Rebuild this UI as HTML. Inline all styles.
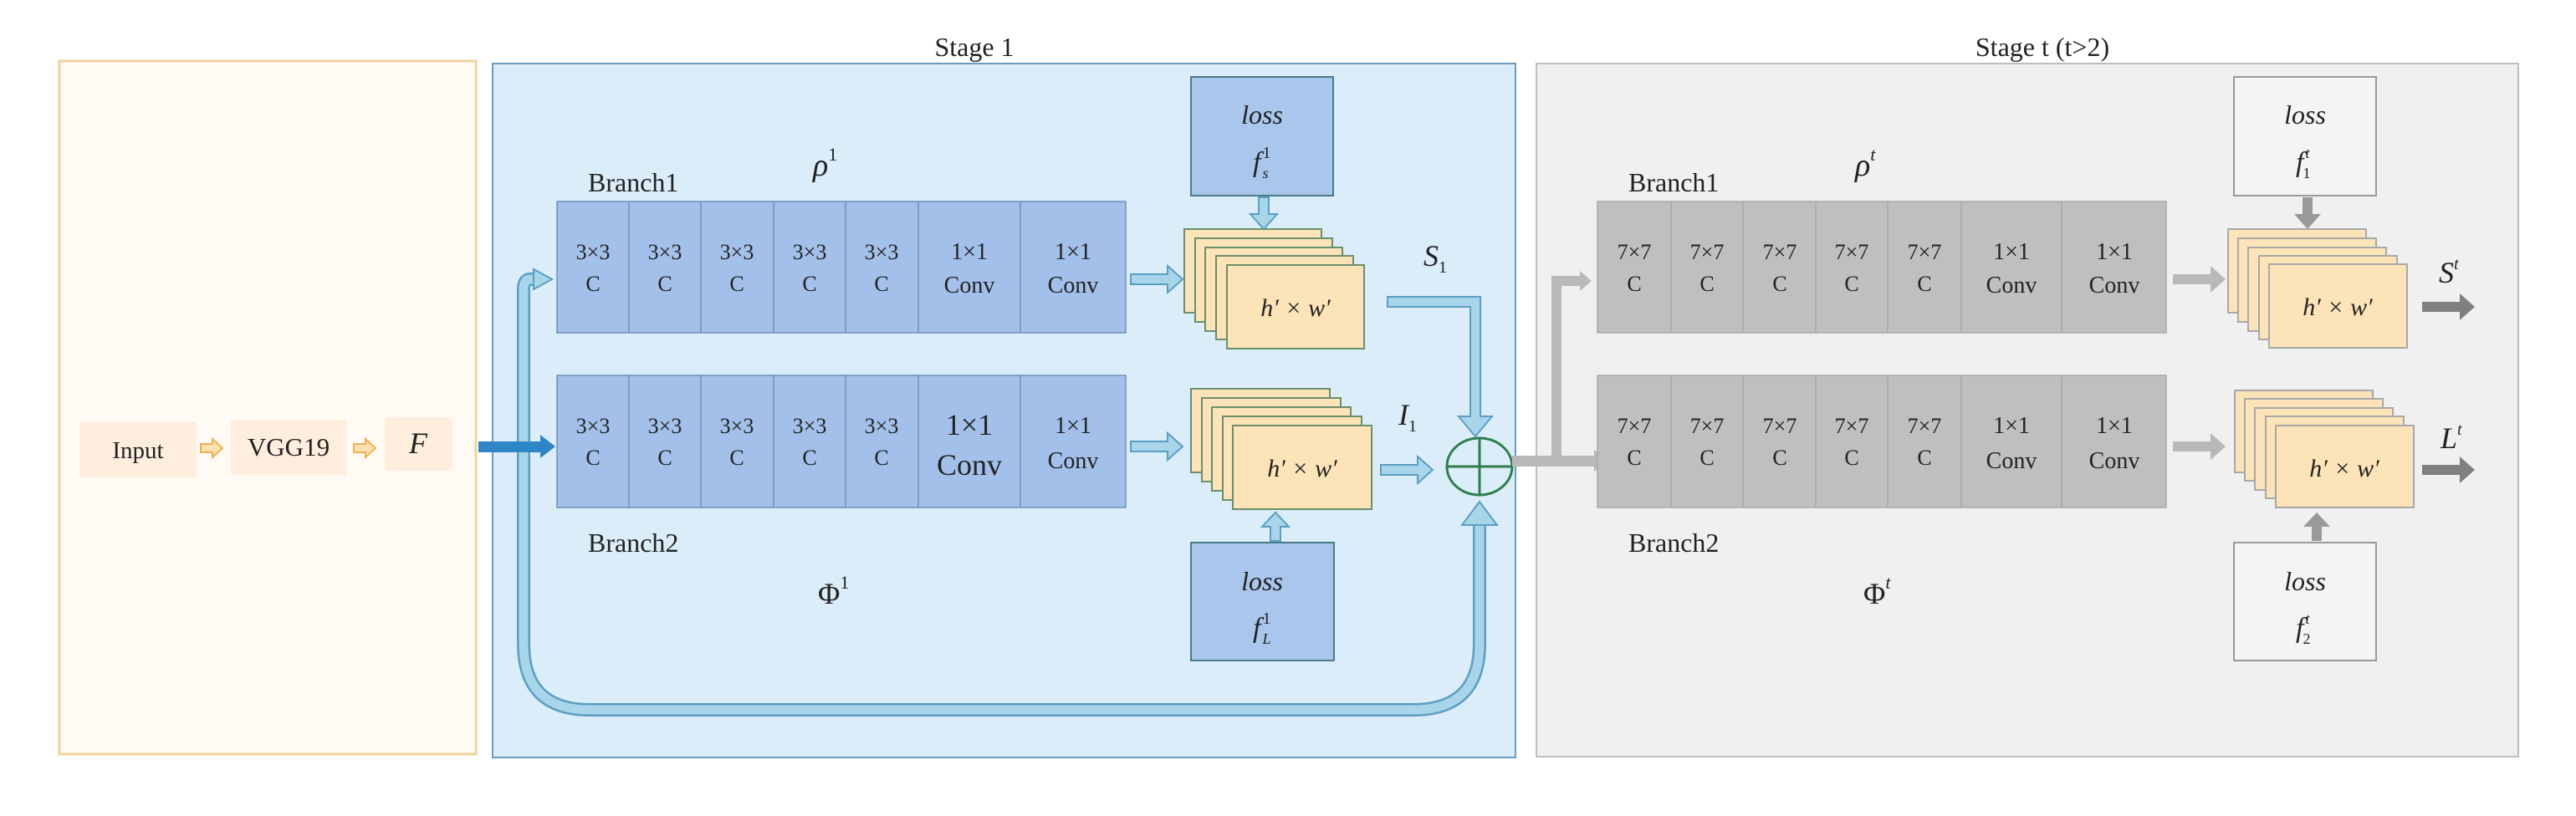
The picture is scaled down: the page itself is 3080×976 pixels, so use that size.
<!DOCTYPE html>
<html><head><meta charset="utf-8"><style>html,body{margin:0;padding:0;background:#fff}svg{display:block}</style></head>
<body>
<svg width="3080" height="976" viewBox="0 0 3080 976" xmlns="http://www.w3.org/2000/svg" font-family="Liberation Serif, serif">
<rect width="3080" height="976" fill="#fff"/>
<!-- panels -->
<rect x="71" y="73" width="498" height="829" fill="#fffaf4" stroke="#f2d29c" stroke-width="3"/>
<rect x="589" y="76" width="1223" height="830" fill="#dbedf8" stroke="#6a9cc0" stroke-width="2"/>
<rect x="1837" y="76" width="1174" height="829" fill="#f0f0f0" stroke="#bdbdbd" stroke-width="2"/>
<text x="1165" y="67" font-size="32" text-anchor="middle" fill="#222">Stage 1</text>
<text x="2442" y="67" font-size="32" text-anchor="middle" fill="#222">Stage t (t&gt;2)</text>

<!-- input chain -->
<rect x="96" y="505" width="139" height="66" fill="#fdeedd"/>
<text x="165" y="548" font-size="29" text-anchor="middle" fill="#222">Input</text>
<rect x="276" y="502" width="138" height="66" fill="#fdeedd"/>
<text x="345" y="545" font-size="31" text-anchor="middle" fill="#222">VGG19</text>
<rect x="460" y="499" width="80" height="64" fill="#fdeedd"/>
<text x="500" y="542" font-size="36" font-style="italic" text-anchor="middle" fill="#222">F</text>
<polygon points="240,531 254,531 254,525 266,536 254,547 254,541 240,541" fill="#fde2b0" stroke="#f0b050" stroke-width="2"/>
<polygon points="423,531 437,531 437,525 449,536 437,547 437,541 423,541" fill="#fde2b0" stroke="#f0b050" stroke-width="2"/>

<!-- skip connection -->
<path d="M640,334 H634 Q626,334 626,346 V770 Q626,849 705,849 H1690 Q1769,849 1769,770 V625" fill="none" stroke="#5a9fc3" stroke-width="16"/>
<path d="M640,334 H634 Q626,334 626,346 V770 Q626,849 705,849 H1690 Q1769,849 1769,770 V622" fill="none" stroke="#a9d5ea" stroke-width="11"/>
<polygon points="638,322 660,334 638,346" fill="#a9d5ea" stroke="#5a9fc3" stroke-width="2"/>
<polygon points="1748,628 1790,628 1769,600" fill="#a9d5ea" stroke="#5a9fc3" stroke-width="2"/>

<!-- F thick arrow -->
<rect x="572" y="528" width="76" height="13" fill="#2f86c6"/>
<polygon points="646,520 664,534 646,548" fill="#2f86c6"/>

<!-- blue blocks -->
<g stroke="#6f8fb8" stroke-width="1.5" fill="#a3c0eb">
<rect x="666" y="241" width="680" height="157"/>
<line x1="752" y1="241" x2="752" y2="398"/><line x1="838" y1="241" x2="838" y2="398"/><line x1="925" y1="241" x2="925" y2="398"/><line x1="1011" y1="241" x2="1011" y2="398"/><line x1="1098" y1="241" x2="1098" y2="398"/><line x1="1220" y1="241" x2="1220" y2="398"/>
<rect x="666" y="449" width="680" height="158"/>
<line x1="752" y1="449" x2="752" y2="607"/><line x1="838" y1="449" x2="838" y2="607"/><line x1="925" y1="449" x2="925" y2="607"/><line x1="1011" y1="449" x2="1011" y2="607"/><line x1="1098" y1="449" x2="1098" y2="607"/><line x1="1220" y1="449" x2="1220" y2="607"/>
</g>
<g font-size="26" text-anchor="middle" fill="#222">
<text x="709" y="310">3×3</text><text x="709" y="348">C</text>
<text x="795" y="310">3×3</text><text x="795" y="348">C</text>
<text x="881" y="310">3×3</text><text x="881" y="348">C</text>
<text x="968" y="310">3×3</text><text x="968" y="348">C</text>
<text x="1054" y="310">3×3</text><text x="1054" y="348">C</text>
<text x="1159" y="310" font-size="28">1×1</text><text x="1159" y="350" font-size="28">Conv</text>
<text x="1283" y="310" font-size="28">1×1</text><text x="1283" y="350" font-size="28">Conv</text>
<text x="709" y="518">3×3</text><text x="709" y="556">C</text>
<text x="795" y="518">3×3</text><text x="795" y="556">C</text>
<text x="881" y="518">3×3</text><text x="881" y="556">C</text>
<text x="968" y="518">3×3</text><text x="968" y="556">C</text>
<text x="1054" y="518">3×3</text><text x="1054" y="556">C</text>
<text x="1159" y="520" font-size="36">1×1</text><text x="1159" y="568" font-size="36">Conv</text>
<text x="1283" y="518" font-size="28">1×1</text><text x="1283" y="560" font-size="28">Conv</text>
</g>
<text x="703" y="229" font-size="32" fill="#222">Branch1</text>
<text x="703" y="660" font-size="32" fill="#222">Branch2</text>
<text x="972" y="210" font-size="38" font-style="italic" fill="#222">ρ<tspan font-size="22" font-style="normal" dy="-18">1</tspan></text>
<text x="978" y="722" font-size="36" fill="#222">Φ<tspan font-size="22" dy="-18">1</tspan></text>

<!-- losses stage1 -->
<rect x="1424" y="92" width="170" height="142" fill="#a9c6ec" stroke="#4a7a8a" stroke-width="2"/>
<text x="1509" y="148" font-size="32" font-style="italic" text-anchor="middle" fill="#222">loss</text>
<text x="1498" y="205" font-size="34" font-style="italic" fill="#222">f<tspan font-size="20" font-style="normal" dx="2" dy="-16">1</tspan><tspan font-size="18" dx="-10" dy="24">s</tspan></text>
<rect x="1424" y="649" width="171" height="141" fill="#a9c6ec" stroke="#4a7a8a" stroke-width="2"/>
<text x="1509" y="706" font-size="32" font-style="italic" text-anchor="middle" fill="#222">loss</text>
<text x="1498" y="762" font-size="34" font-style="italic" fill="#222">f<tspan font-size="20" font-style="normal" dx="2" dy="-16">1</tspan><tspan font-size="18" dx="-10" dy="24">L</tspan></text>

<!-- cards stage1 -->
<g fill="#fde3b8" stroke="#6b8e6b" stroke-width="2">
<rect x="1416" y="274" width="164" height="100"/><rect x="1429" y="285" width="164" height="100"/><rect x="1441" y="296" width="164" height="100"/><rect x="1454" y="306" width="164" height="100"/><rect x="1467" y="317" width="164" height="100"/>
<rect x="1424" y="465" width="166" height="100"/><rect x="1437" y="476" width="166" height="100"/><rect x="1449" y="487" width="166" height="100"/><rect x="1462" y="498" width="166" height="100"/><rect x="1474" y="509" width="166" height="100"/>
</g>
<text x="1549" y="378" font-size="30" font-style="italic" text-anchor="middle" fill="#222">h′ × w′</text>
<text x="1557" y="570" font-size="30" font-style="italic" text-anchor="middle" fill="#222">h′ × w′</text>

<!-- blue small arrows -->
<g fill="#a9d5ea" stroke="#5a9fc3" stroke-width="2">
<polygon points="1352,328 1396,328 1396,318 1414,334 1396,350 1396,340 1352,340"/>
<polygon points="1352,528 1396,528 1396,518 1414,534 1396,550 1396,540 1352,540"/>
<polygon points="1651,556 1695,556 1695,546 1713,562 1695,578 1695,568 1651,568"/>
<polygon points="1505,236 1517,236 1517,256 1527,256 1511,274 1495,256 1505,256"/>
<polygon points="1519,647 1531,647 1531,630 1541,630 1525,613 1509,630 1519,630"/>
<polygon points="1659,355 1770,355 1770,498 1784,498 1764,522 1744,498 1758,498 1758,367 1659,367"/>
</g>
<text x="1702" y="318" font-size="36" font-style="italic" fill="#222">S<tspan font-size="20" font-style="normal" dy="8">1</tspan></text>
<text x="1672" y="508" font-size="36" font-style="italic" fill="#222">I<tspan font-size="20" font-style="normal" dy="8">1</tspan></text>
<!-- circle plus -->
<ellipse cx="1769" cy="558" rx="39" ry="34" fill="none" stroke="#2e7d4f" stroke-width="3"/>
<line x1="1730" y1="558" x2="1808" y2="558" stroke="#2e7d4f" stroke-width="3"/>
<line x1="1769" y1="524" x2="1769" y2="592" stroke="#2e7d4f" stroke-width="3"/>

<!-- gray connectors -->
<g fill="#b9b9b9">
<rect x="1808" y="545" width="100" height="13"/>
<polygon points="1906,538 1922,551 1906,564"/>
<rect x="1855" y="336" width="12" height="215"/>
<rect x="1855" y="330" width="36" height="12"/>
<polygon points="1889,324 1903,336 1889,348"/>
<polygon points="2598,328 2643,328 2643,318 2661,334 2643,350 2643,340 2598,340"/>
<polygon points="2598,528 2643,528 2643,518 2661,534 2643,550 2643,540 2598,540"/>
</g>
<g fill="#999">
<polygon points="2753,236 2765,236 2765,256 2775,256 2759,274 2743,256 2753,256"/>
<polygon points="2764,647 2776,647 2776,630 2786,630 2770,613 2754,630 2764,630"/>
</g>
<g fill="#808080">
<polygon points="2896,361 2941,361 2941,351 2959,367 2941,383 2941,373 2896,373"/>
<polygon points="2896,556 2941,556 2941,546 2959,562 2941,578 2941,568 2896,568"/>
</g>

<!-- gray blocks -->
<g stroke="#a8a8a8" stroke-width="1.5" fill="#bfbfbf">
<rect x="1910" y="241" width="680" height="157"/>
<line x1="1998" y1="241" x2="1998" y2="398"/><line x1="2084" y1="241" x2="2084" y2="398"/><line x1="2171" y1="241" x2="2171" y2="398"/><line x1="2257" y1="241" x2="2257" y2="398"/><line x1="2345" y1="241" x2="2345" y2="398"/><line x1="2465" y1="241" x2="2465" y2="398"/>
<rect x="1910" y="449" width="680" height="158"/>
<line x1="1998" y1="449" x2="1998" y2="607"/><line x1="2084" y1="449" x2="2084" y2="607"/><line x1="2171" y1="449" x2="2171" y2="607"/><line x1="2257" y1="449" x2="2257" y2="607"/><line x1="2345" y1="449" x2="2345" y2="607"/><line x1="2465" y1="449" x2="2465" y2="607"/>
</g>
<g font-size="26" text-anchor="middle" fill="#222">
<text x="1954" y="310">7×7</text><text x="1954" y="348">C</text>
<text x="2041" y="310">7×7</text><text x="2041" y="348">C</text>
<text x="2128" y="310">7×7</text><text x="2128" y="348">C</text>
<text x="2214" y="310">7×7</text><text x="2214" y="348">C</text>
<text x="2301" y="310">7×7</text><text x="2301" y="348">C</text>
<text x="2405" y="310" font-size="28">1×1</text><text x="2405" y="350" font-size="28">Conv</text>
<text x="2528" y="310" font-size="28">1×1</text><text x="2528" y="350" font-size="28">Conv</text>
<text x="1954" y="518">7×7</text><text x="1954" y="556">C</text>
<text x="2041" y="518">7×7</text><text x="2041" y="556">C</text>
<text x="2128" y="518">7×7</text><text x="2128" y="556">C</text>
<text x="2214" y="518">7×7</text><text x="2214" y="556">C</text>
<text x="2301" y="518">7×7</text><text x="2301" y="556">C</text>
<text x="2405" y="518" font-size="28">1×1</text><text x="2405" y="560" font-size="28">Conv</text>
<text x="2528" y="518" font-size="28">1×1</text><text x="2528" y="560" font-size="28">Conv</text>
</g>
<text x="1947" y="229" font-size="32" fill="#222">Branch1</text>
<text x="1947" y="660" font-size="32" fill="#222">Branch2</text>
<text x="2218" y="210" font-size="38" font-style="italic" fill="#222">ρ<tspan font-size="22" dy="-18">t</tspan></text>
<text x="2228" y="722" font-size="36" fill="#222">Φ<tspan font-size="22" font-style="italic" dy="-18">t</tspan></text>

<!-- losses stage t -->
<rect x="2671" y="92" width="170" height="142" fill="#f4f4f4" stroke="#9a9a9a" stroke-width="2"/>
<text x="2756" y="148" font-size="32" font-style="italic" text-anchor="middle" fill="#222">loss</text>
<text x="2745" y="205" font-size="34" font-style="italic" fill="#222">f<tspan font-size="18" dx="2" dy="-16">t</tspan><tspan font-size="18" font-style="normal" dx="-8" dy="24">1</tspan></text>
<rect x="2671" y="649" width="170" height="141" fill="#f4f4f4" stroke="#9a9a9a" stroke-width="2"/>
<text x="2756" y="706" font-size="32" font-style="italic" text-anchor="middle" fill="#222">loss</text>
<text x="2745" y="762" font-size="34" font-style="italic" fill="#222">f<tspan font-size="18" dx="2" dy="-16">t</tspan><tspan font-size="18" font-style="normal" dx="-8" dy="24">2</tspan></text>

<g fill="#fde3b8" stroke="#a8a8a8" stroke-width="2">
<rect x="2664" y="274" width="165" height="100"/><rect x="2676" y="285" width="165" height="100"/><rect x="2688" y="296" width="165" height="100"/><rect x="2701" y="306" width="165" height="100"/><rect x="2713" y="316" width="165" height="100"/>
<rect x="2672" y="467" width="165" height="98"/><rect x="2684" y="477" width="165" height="98"/><rect x="2696" y="488" width="165" height="98"/><rect x="2709" y="498" width="165" height="98"/><rect x="2721" y="509" width="165" height="98"/>
</g>
<text x="2795" y="377" font-size="30" font-style="italic" text-anchor="middle" fill="#222">h′ × w′</text>
<text x="2803" y="570" font-size="30" font-style="italic" text-anchor="middle" fill="#222">h′ × w′</text>
<text x="2916" y="338" font-size="36" font-style="italic" fill="#222">S<tspan font-size="20" dy="-16">t</tspan></text>
<text x="2918" y="536" font-size="36" font-style="italic" fill="#222">L<tspan font-size="20" dy="-16">t</tspan></text>
</svg>
</body></html>
